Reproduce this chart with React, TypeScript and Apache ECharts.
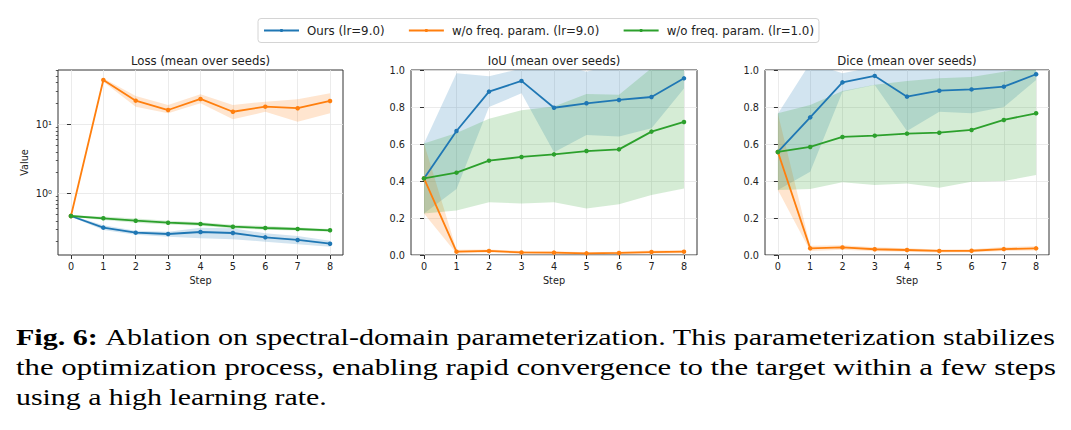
import React, { useEffect, useRef } from "react";
import * as echarts from "echarts";

// ---------- data ----------
const STEPS = [0, 1, 2, 3, 4, 5, 6, 7, 8];
const NAMES = ["Ours (lr=9.0)", "w/o freq. param. (lr=9.0)", "w/o freq. param. (lr=1.0)"];
const TITLES = ["Loss (mean over seeds)", "IoU (mean over seeds)", "Dice (mean over seeds)"];
const LOSS_MAJOR_TICKS = [1, 10];
const LOSS_MINOR_TICKS = [0.2, 0.3, 0.4, 0.5, 0.6, 0.7, 0.8, 0.9, 2, 3, 4, 5, 6, 7, 8, 9, 20, 30, 40, 50, 60];

// Loss
const LOSS_OURS = [0.469, 0.318, 0.269, 0.257, 0.275, 0.266, 0.23, 0.211, 0.186];
const LOSS_OURS_LO = [0.458, 0.294, 0.251, 0.235, 0.223, 0.216, 0.199, 0.182, 0.168];
const LOSS_OURS_HI = [0.48, 0.344, 0.287, 0.278, 0.318, 0.311, 0.263, 0.241, 0.205];
const LOSS_NOF9 = [0.469, 43.9, 22.0, 16.1, 23.3, 15.2, 18.0, 17.1, 21.8];
const LOSS_NOF9_LO = [0.458, 41.5, 18.0, 14.4, 20.2, 11.8, 15.2, 10.9, 14.4];
const LOSS_NOF9_HI = [0.48, 46.5, 25.7, 19.0, 27.2, 19.0, 21.3, 23.0, 28.1];
const LOSS_NOF1 = [0.469, 0.434, 0.401, 0.375, 0.359, 0.328, 0.314, 0.304, 0.291];
const LOSS_NOF1_LO = [0.458, 0.41, 0.375, 0.352, 0.34, 0.31, 0.297, 0.288, 0.277];
const LOSS_NOF1_HI = [0.48, 0.46, 0.43, 0.4, 0.38, 0.35, 0.335, 0.32, 0.305];

// IoU
const IOU_OURS = [0.414, 0.67, 0.883, 0.941, 0.796, 0.82, 0.838, 0.854, 0.955];
const IOU_OURS_LO = [0.225, 0.357, 0.8, 0.874, 0.555, 0.649, 0.64, 0.685, 0.9];
const IOU_OURS_HI = [0.603, 0.983, 0.966, 1.008, 1.037, 0.991, 1.036, 1.023, 1.01];
const IOU_NOF9 = [0.414, 0.018, 0.022, 0.014, 0.013, 0.009, 0.011, 0.016, 0.018];
const IOU_NOF9_LO = [0.225, 0.008, 0.014, 0.006, 0.006, 0.003, 0.005, 0.008, 0.01];
const IOU_NOF9_HI = [0.603, 0.028, 0.03, 0.022, 0.02, 0.015, 0.017, 0.024, 0.026];
const IOU_NOF1 = [0.414, 0.445, 0.51, 0.53, 0.544, 0.562, 0.571, 0.667, 0.719];
const IOU_NOF1_LO = [0.225, 0.24, 0.285, 0.279, 0.285, 0.252, 0.274, 0.324, 0.36];
const IOU_NOF1_HI = [0.603, 0.66, 0.737, 0.783, 0.803, 0.87, 0.866, 1.01, 1.078];

// Dice
const DICE_OURS = [0.557, 0.744, 0.933, 0.968, 0.856, 0.888, 0.895, 0.91, 0.977];
const DICE_OURS_LO = [0.351, 0.45, 0.883, 0.919, 0.67, 0.775, 0.766, 0.8, 0.946];
const DICE_OURS_HI = [0.763, 1.038, 0.983, 1.017, 1.042, 1.001, 1.024, 1.02, 1.008];
const DICE_NOF9 = [0.557, 0.036, 0.041, 0.031, 0.027, 0.022, 0.023, 0.032, 0.036];
const DICE_NOF9_LO = [0.351, 0.022, 0.029, 0.02, 0.017, 0.014, 0.015, 0.021, 0.025];
const DICE_NOF9_HI = [0.763, 0.05, 0.053, 0.042, 0.037, 0.03, 0.031, 0.043, 0.047];
const DICE_NOF1 = [0.557, 0.584, 0.638, 0.645, 0.656, 0.661, 0.676, 0.73, 0.766];
const DICE_NOF1_LO = [0.351, 0.357, 0.393, 0.378, 0.387, 0.364, 0.396, 0.4, 0.432];
const DICE_NOF1_HI = [0.766, 0.811, 0.886, 0.92, 0.94, 0.955, 0.962, 0.99, 1.02];

const CAPTION_BOLD = "Fig. 6: ";
const CAPTION_LINE1 = "Ablation on spectral-domain parameterization. This parameterization stabilizes";
const CAPTION_LINE2 = "the optimization process, enabling rapid convergence to the target within a few steps";
const CAPTION_LINE3 = "using a high learning rate.";

// ---------- styles ----------
const COLORS = ["#1f77b4", "#ff7f0e", "#2ca02c"];
const BAND_COLORS = ["rgba(31,119,180,0.2)", "rgba(255,127,14,0.2)", "rgba(44,160,44,0.2)"];
const FONT = "DejaVu Sans";
const TXT = "#222222";
const TICK = "#333333";
const GRIDLINE = "#e6e6e6";

const PANELS = [
  { left: 58, width: 285 },
  { left: 411, width: 286 },
  { left: 765, width: 284 },
];
const TOP = 70;
const HEIGHT = 185;

function measure(text: string, font: string): number {
  const ctx = document.createElement("canvas").getContext("2d");
  if (!ctx) return text.length * 10;
  ctx.font = font;
  return ctx.measureText(text).width;
}

export default function App() {
  const ref = useRef<HTMLDivElement>(null);

  useEffect(() => {
    if (!ref.current) return;
    const chart = echarts.init(ref.current, undefined, { renderer: "svg" });

    const panelData = [
      [
        [LOSS_OURS, LOSS_OURS_LO, LOSS_OURS_HI],
        [LOSS_NOF9, LOSS_NOF9_LO, LOSS_NOF9_HI],
        [LOSS_NOF1, LOSS_NOF1_LO, LOSS_NOF1_HI],
      ],
      [
        [IOU_OURS, IOU_OURS_LO, IOU_OURS_HI],
        [IOU_NOF9, IOU_NOF9_LO, IOU_NOF9_HI],
        [IOU_NOF1, IOU_NOF1_LO, IOU_NOF1_HI],
      ],
      [
        [DICE_OURS, DICE_OURS_LO, DICE_OURS_HI],
        [DICE_NOF9, DICE_NOF9_LO, DICE_NOF9_HI],
        [DICE_NOF1, DICE_NOF1_LO, DICE_NOF1_HI],
      ],
    ];
    const yIndexOf = [0, 2, 3];

    const series: any[] = [];
    // shaded std bands (drawn first, under all lines)
    panelData.forEach((methods, p) => {
      methods.forEach((m, k) => {
        const [, lo, hi] = m;
        series.push({
          type: "custom",
          name: `band-${p}-${k}`,
          xAxisIndex: p,
          yAxisIndex: yIndexOf[p],
          clip: true,
          silent: true,
          z: 1,
          data: STEPS.map((s, i) => [s, lo[i], hi[i]]),
          encode: { x: 0, y: [1, 2] },
          renderItem: (params: any, api: any) => {
            if (params.dataIndex !== 0) return null;
            const upper = STEPS.map((s, i) => api.coord([s, hi[i]]));
            const lower = STEPS.map((s, i) => api.coord([s, lo[i]])).reverse();
            return {
              type: "polygon",
              shape: { points: upper.concat(lower) },
              style: { fill: BAND_COLORS[k], stroke: "none" },
              silent: true,
            };
          },
        });
      });
    });
    // mean lines
    panelData.forEach((methods, p) => {
      methods.forEach((m, k) => {
        const [mean] = m;
        series.push({
          type: "line",
          name: NAMES[k],
          xAxisIndex: p,
          yAxisIndex: yIndexOf[p],
          data: STEPS.map((s, i) => [s, mean[i]]),
          symbol: "circle",
          symbolSize: 4.5,
          showSymbol: true,
          lineStyle: { width: 1.8, color: COLORS[k] },
          itemStyle: { color: COLORS[k] },
          silent: true,
          z: 3 + k,
        });
      });
    });

    const grids = PANELS.map((g) => ({
      left: g.left,
      top: TOP,
      width: g.width,
      height: HEIGHT,
      show: true,
      borderColor: "#333333",
      borderWidth: 1,
      backgroundColor: "rgba(0,0,0,0)",
    }));

    const xAxes = PANELS.map((_, p) => ({
      gridIndex: p,
      type: "value",
      min: -0.4,
      max: 8.4,
      splitNumber: 8,
      name: "Step",
      nameLocation: "middle",
      nameGap: 20,
      nameTextStyle: { fontFamily: FONT, fontSize: 9.7, color: TXT },
      axisLine: { show: false },
      axisTick: { show: true, length: 4, customValues: STEPS, lineStyle: { color: TICK, width: 1 } },
      axisLabel: {
        customValues: STEPS,
        fontFamily: FONT,
        fontSize: 9.7,
        color: TXT,
        margin: 6,
        formatter: (v: number) => String(Math.round(v)),
      },
      splitLine: { show: true, lineStyle: { color: GRIDLINE, width: 0.8 } },
    }));

    const unitAxis = (p: number) => ({
      gridIndex: p,
      type: "value",
      min: 0,
      max: 1,
      interval: 0.2,
      position: "left",
      axisLine: { show: false },
      axisTick: { show: true, length: 4, lineStyle: { color: TICK, width: 1 } },
      axisLabel: {
        fontFamily: FONT,
        fontSize: 9.7,
        color: TXT,
        margin: 6,
        formatter: (v: number) => v.toFixed(1),
      },
      splitLine: { show: true, lineStyle: { color: GRIDLINE, width: 0.8 } },
    });

    const yAxes = [
      {
        gridIndex: 0,
        type: "log",
        logBase: 10,
        min: 0.1276,
        max: 61.2,
        position: "left",
        name: "Value",
        nameLocation: "middle",
        nameGap: 29,
        nameTextStyle: { fontFamily: FONT, fontSize: 9.7, color: TXT },
        axisLine: { show: false },
        axisTick: { show: true, length: 4, customValues: LOSS_MAJOR_TICKS, lineStyle: { color: TICK, width: 1 } },
        axisLabel: {
          customValues: LOSS_MAJOR_TICKS,
          fontFamily: FONT,
          fontSize: 9.7,
          color: TXT,
          margin: 6,
          formatter: (v: number) => (Math.abs(v - 1) < 1e-6 ? "10\u2070" : Math.abs(v - 10) < 1e-6 ? "10\u00b9" : ""),
        },
        splitLine: { show: true, lineStyle: { color: GRIDLINE, width: 0.8 } },
      },
      {
        gridIndex: 0,
        type: "log",
        logBase: 10,
        min: 0.1276,
        max: 61.2,
        position: "left",
        axisLine: { show: false },
        axisLabel: { show: false },
        splitLine: { show: false },
        axisTick: { show: true, length: 2.2, customValues: LOSS_MINOR_TICKS, lineStyle: { color: TICK, width: 0.8 } },
      },
      unitAxis(1),
      unitAxis(2),
    ];

    const titles = PANELS.map((g, p) => ({
      text: TITLES[p],
      left: g.left + g.width / 2,
      top: 55,
      textAlign: "center",
      padding: 0,
      textStyle: { fontFamily: FONT, fontSize: 11.7, fontWeight: "normal", color: TXT },
    }));

    // caption
    const CAP_FONT = "Liberation Serif";
    const CAP_SIZE = 24;
    const wBold = measure(CAPTION_BOLD, `bold ${CAP_SIZE}px "${CAP_FONT}"`);
    const w1 = wBold + measure(CAPTION_LINE1, `${CAP_SIZE}px "${CAP_FONT}"`);
    const w2 = measure(CAPTION_LINE2, `${CAP_SIZE}px "${CAP_FONT}"`);
    const w3 = measure(CAPTION_LINE3, `${CAP_SIZE}px "${CAP_FONT}"`);
    const capStyle = {
      fontFamily: CAP_FONT,
      fontSize: CAP_SIZE,
      fill: "#000000",
      align: "left",
      verticalAlign: "middle",
    };

    const graphic = [
      {
        type: "text",
        x: 16,
        y: 337,
        scaleX: 1040 / w1,
        style: {
          ...capStyle,
          text: `{b|${CAPTION_BOLD}}{n|${CAPTION_LINE1}}`,
          rich: {
            b: { fontFamily: CAP_FONT, fontSize: CAP_SIZE, fontWeight: "bold", fill: "#000" },
            n: { fontFamily: CAP_FONT, fontSize: CAP_SIZE, fill: "#000" },
          },
        },
      },
      { type: "text", x: 16, y: 367, scaleX: 1040 / w2, style: { ...capStyle, text: CAPTION_LINE2 } },
      { type: "text", x: 16, y: 397, scaleX: 311 / w3, style: { ...capStyle, text: CAPTION_LINE3 } },
    ];

    chart.setOption({
      animation: false,
      backgroundColor: "#ffffff",
      title: titles,
      legend: {
        data: NAMES,
        left: 258,
        top: 18.5,
        orient: "horizontal",
        itemWidth: 35,
        itemHeight: 4,
        itemGap: 23.4,
        padding: [6, 5, 6, 5],
        borderColor: "#d4d4d4",
        borderWidth: 1,
        borderRadius: 3,
        backgroundColor: "#ffffff",
        textStyle: { fontFamily: FONT, fontSize: 11.8, color: TXT, padding: [0, 0, 0, 3] },
        selectedMode: false,
      },
      grid: grids,
      xAxis: xAxes,
      yAxis: yAxes,
      series,
      graphic,
    } as any);

    return () => {
      chart.dispose();
    };
  }, []);

  return (
    <div
      ref={ref}
      style={{ position: "fixed", left: 0, top: 0, width: 1071, height: 430, background: "#fff" }}
    />
  );
}
